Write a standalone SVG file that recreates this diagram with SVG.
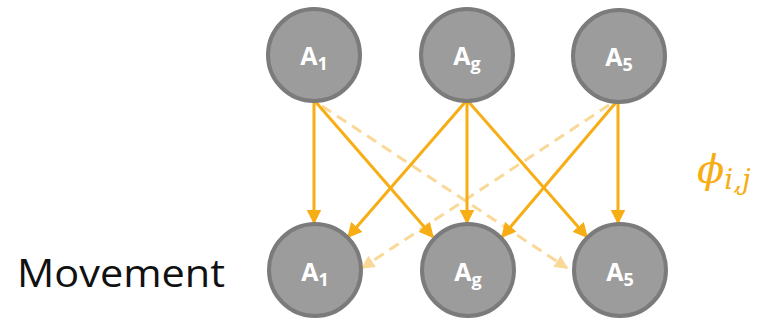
<svg xmlns="http://www.w3.org/2000/svg" width="773" height="320" viewBox="0 0 773 320">
  <style>
    .node { fill: #9c9c9c; stroke: #7b7b7b; stroke-width: 4; }
    .lbl { font-family: "Open Sans", "Liberation Sans", sans-serif; font-weight: bold; font-size: 25px; fill: #ffffff; text-anchor: middle; }
    .sub { font-size: 18px; }
    .solid { stroke: #f7ad14; stroke-width: 3; fill: none; marker-end: url(#headSolid); }
    .dash { stroke: #f9d898; stroke-width: 3; fill: none; stroke-dasharray: 11 7; marker-end: url(#headDash); }
  </style>
  <defs>
    <marker id="headSolid" viewBox="0 0 10 10" refX="9" refY="5" markerWidth="5" markerHeight="5" orient="auto" markerUnits="strokeWidth">
      <path d="M0,0 L10,5 L0,10 Z" fill="#f7ad14"/>
    </marker>
    <marker id="headDash" viewBox="0 0 10 10" refX="9" refY="5" markerWidth="4.5" markerHeight="4.5" orient="auto" markerUnits="strokeWidth">
      <path d="M0,0 L10,5 L0,10 Z" fill="#f9d898"/>
    </marker>
  </defs>

  <!-- connectors -->
  <g id="connectors">
    <line class="dash" x1="322" y1="106" x2="567" y2="268"/>
    <line class="dash" x1="609" y1="105" x2="362" y2="268"/>
    <line class="solid" x1="314" y1="100" x2="314" y2="223"/>
    <line class="solid" x1="314" y1="100" x2="433" y2="237"/>
    <line class="solid" x1="467" y1="100" x2="348" y2="237"/>
    <line class="solid" x1="467" y1="100" x2="467" y2="223"/>
    <line class="solid" x1="467" y1="100" x2="587" y2="237"/>
    <line class="solid" x1="618" y1="100" x2="502" y2="237"/>
    <line class="solid" x1="618" y1="100" x2="618" y2="223"/>
  </g>

  <!-- upper row -->
  <g id="top-a1">
    <circle class="node" cx="314" cy="55" r="46"/>
    <text class="lbl" x="314" y="65">A<tspan class="sub" dy="5">1</tspan></text>
  </g>
  <g id="top-ag">
    <circle class="node" cx="467" cy="55" r="46"/>
    <text class="lbl" x="467" y="65">A<tspan class="sub" dy="5">g</tspan></text>
  </g>
  <g id="top-a5">
    <circle class="node" cx="619" cy="56" r="46"/>
    <text class="lbl" x="619" y="66">A<tspan class="sub" dy="5">5</tspan></text>
  </g>

  <!-- lower row -->
  <g id="bottom-a1">
    <circle class="node" cx="315" cy="270" r="46"/>
    <text class="lbl" x="315" y="281">A<tspan class="sub" dy="5">1</tspan></text>
  </g>
  <g id="bottom-ag">
    <circle class="node" cx="468" cy="270" r="46"/>
    <text class="lbl" x="468" y="281">A<tspan class="sub" dy="5">g</tspan></text>
  </g>
  <g id="bottom-a5">
    <circle class="node" cx="620" cy="270" r="46"/>
    <text class="lbl" x="620" y="281">A<tspan class="sub" dy="5">5</tspan></text>
  </g>

  <!-- labels -->
  <text x="17" y="287" font-family="Open Sans, Liberation Sans, sans-serif" font-size="38" fill="#111111" textLength="208" lengthAdjust="spacingAndGlyphs">Movement</text>
  <text x="697" y="183" font-family="DejaVu Serif, Liberation Serif, serif" font-style="italic" font-size="40" fill="#f7ad14">ϕ<tspan font-size="28" dy="6">i,j</tspan></text>
</svg>
